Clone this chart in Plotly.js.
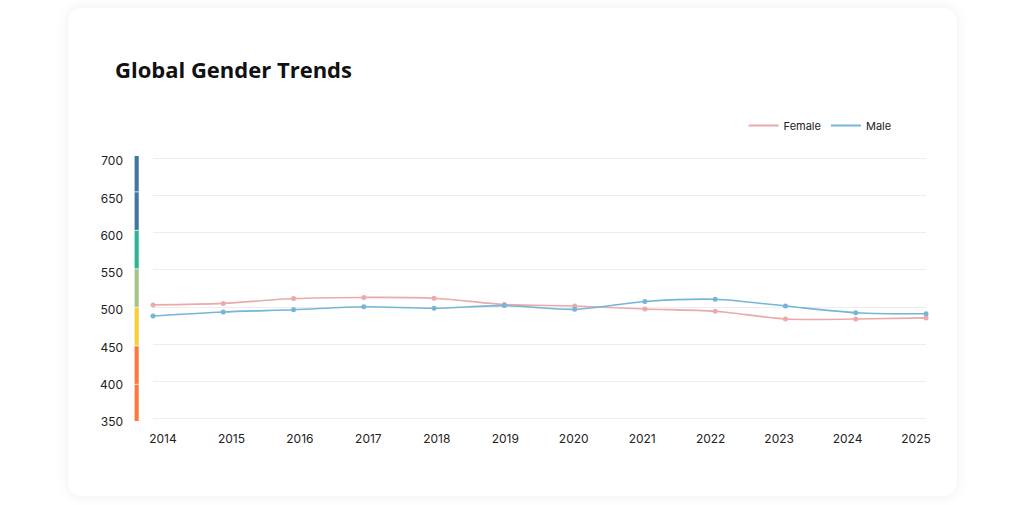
<!DOCTYPE html>
<html>
<head>
<meta charset="utf-8">
<script src="https://cdn.plot.ly/plotly-3.0.1.min.js"></script>
<style>
  html, body { margin: 0; padding: 0; background: #ffffff; width: 1024px; height: 505px; overflow: hidden; }
  #card { position: absolute; left: 68px; top: 8px; width: 889px; height: 488px; background: #fff;
          border-radius: 14px; box-shadow: 0 0 14px rgba(0,0,0,0.07); }
  #chart { position: absolute; left: 0; top: 0; width: 1024px; height: 505px; }
</style>
</head>
<body>
<div id="card"></div>
<div id="chart"></div>
<script>
const years = [2014, 2015, 2016, 2017, 2018, 2019, 2020, 2021, 2022, 2023, 2024, 2025];
const female = [503, 505, 511.5, 513, 512, 503.5, 501.5, 497.5, 494.5, 484, 484, 485.5];
const male = [488, 493.5, 496.5, 500.5, 498.5, 502, 497, 507.5, 510.5, 501.5, 492.5, 491];
const yTicks = [350, 400, 450, 500, 550, 600, 650, 700];
const bandColors = ['#fb7a3c', '#fb7a3c', '#f6cf32', '#a4c28a', '#2bb594', '#3f77a0', '#3f77a0'];
const femaleColor = '#eba9a9';
const maleColor = '#74b5d9';

// colour scale strip beside the y axis (slightly taller than the axis range)
const bandLow = 344.6, bandHigh = 706.7;
const bandStep = (bandHigh - bandLow) / bandColors.length;
const shapes = bandColors.map((c, i) => ({
  type: 'rect', xref: 'paper', yref: 'y',
  x0: -0.0242, x1: -0.0181,
  y0: bandLow + i * bandStep, y1: bandLow + (i + 1) * bandStep,
  fillcolor: c, line: { color: 'rgba(255,255,255,0.7)', width: 0.8 }, layer: 'above'
}));

// tick labels sit slightly inside the first/last points
const labelStep = 0.9742;
const labelVals = years.map((y, i) => years[0] + 0.142 + i * labelStep);

const traces = [
  { x: years, y: female, name: 'Female', type: 'scatter', mode: 'lines+markers', showlegend: false, cliponaxis: false,
    line: { color: femaleColor, width: 1.6, shape: 'spline', smoothing: 0.8 },
    marker: { color: femaleColor, size: 5 } },
  { x: years, y: male, name: 'Male', type: 'scatter', mode: 'lines+markers', showlegend: false, cliponaxis: false,
    line: { color: maleColor, width: 1.6, shape: 'spline', smoothing: 0.8 },
    marker: { color: maleColor, size: 5 } },
  // legend entries (line only)
  { x: [null], y: [null], name: 'Female', type: 'scatter', mode: 'lines',
    line: { color: femaleColor, width: 2 } },
  { x: [null], y: [null], name: 'Male', type: 'scatter', mode: 'lines',
    line: { color: maleColor, width: 2 } }
];

const layout = {
  width: 1024, height: 505,
  paper_bgcolor: 'rgba(0,0,0,0)', plot_bgcolor: 'rgba(0,0,0,0)',
  margin: { l: 153, r: 98, t: 156.07, b: 84.07 },
  font: { family: 'Inter, "Open Sans", sans-serif', color: '#222', size: 12 },
  title: { text: 'Global Gender Trends', xref: 'container', yref: 'container',
           x: 115 / 1024, xanchor: 'left', y: 1 - 70 / 505, yanchor: 'middle',
           font: { family: '"Open Sans", sans-serif', size: 22, color: '#111', weight: 700 } },
  xaxis: { range: [2014, 2025], showgrid: false, zeroline: false, showline: false,
           tickmode: 'array', tickvals: labelVals, ticktext: years.map(String),
           ticks: '', ticklabelstandoff: 9, tickfont: { size: 12, color: '#222' }, fixedrange: true },
  yaxis: { range: [347, 703], tickmode: 'array', tickvals: yTicks, ticktext: yTicks.map(String),
           showgrid: true, gridcolor: '#ededed', gridwidth: 1, zeroline: false, showline: false,
           ticks: '', ticklabelstandoff: 29, ticklabelshift: 3, tickfont: { size: 12, color: '#222' }, fixedrange: true },
  legend: { orientation: 'h', x: 0.764, xanchor: 'left', y: 1.115, yanchor: 'middle',
            font: { size: 11, color: '#222' }, bgcolor: 'rgba(0,0,0,0)', itemwidth: 30, tracegroupgap: 0 },
  shapes: shapes,
  showlegend: true
};

Plotly.newPlot('chart', traces, layout, { displayModeBar: false, staticPlot: true });
</script>
</body>
</html>
